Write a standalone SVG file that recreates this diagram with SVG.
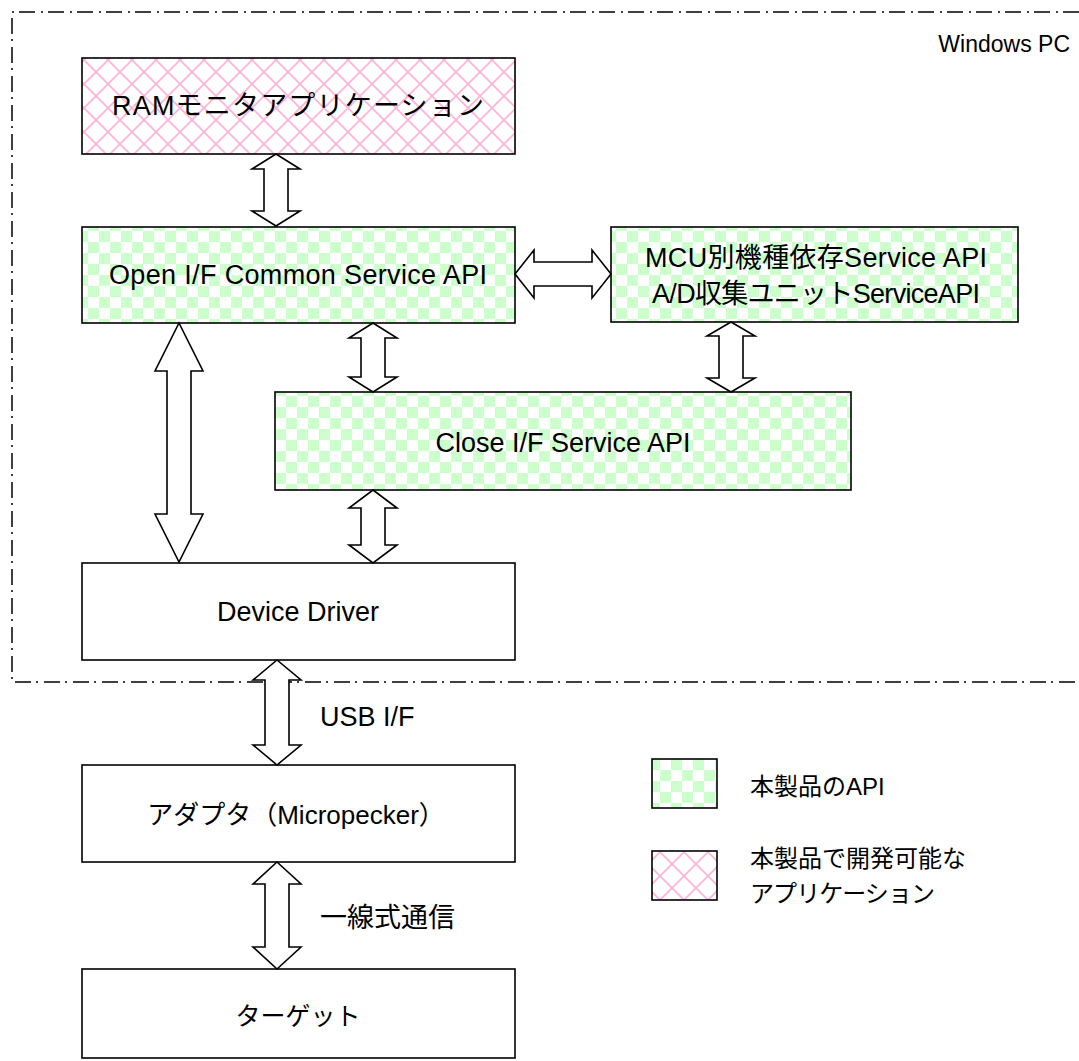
<svg xmlns="http://www.w3.org/2000/svg" width="1079" height="1061" viewBox="0 0 1079 1061">
<style>
.box{stroke:#000;stroke-width:1.6}
.t{font-family:"Liberation Sans","Noto Sans CJK JP",sans-serif;font-size:27px;fill:#000;dominant-baseline:central}
.c{text-anchor:middle}
.lg{font-size:24px}
.arr{fill:#fff;stroke:#000;stroke-width:1.6;stroke-linejoin:miter}
.border{fill:none;stroke:#000;stroke-width:1.5;stroke-dasharray:16 5 2 6}
</style>
<defs>
<pattern id="chk" width="22" height="22" patternUnits="userSpaceOnUse">
<rect width="22" height="22" fill="#fff"/>
<rect width="11" height="11" fill="#ccffcc"/>
<rect x="11" y="11" width="11" height="11" fill="#ccffcc"/>
</pattern>
<pattern id="hatch" width="24" height="24" patternUnits="userSpaceOnUse">
<rect width="24" height="24" fill="#fff"/>
<path d="M0 0 L24 24 M24 0 L0 24" stroke="#ffb3d9" stroke-width="1.7"/>
</pattern>
</defs>
<rect width="1079" height="1061" fill="#fff"/>
<path class="border" d="M1079 12 H12 V682 H1079"/>
<text class="t" x="1070" y="44" text-anchor="end" style="font-size:23px">Windows PC</text>

<g id="ram"><rect class="box" x="82" y="58" width="433" height="96" fill="url(#hatch)"/><text class="t c" x="298" y="106" textLength="372">RAMモニタアプリケーション</text></g>
<g id="openif"><rect class="box" x="82" y="227" width="433" height="96" fill="url(#chk)"/><text class="t c" x="298" y="275" textLength="378">Open I/F Common Service API</text></g>
<g id="mcu"><rect class="box" x="611" y="227" width="407" height="95" fill="url(#chk)"/><text class="t c" x="816" y="258" textLength="342">MCU別機種依存Service API</text><text class="t c" x="816" y="294" textLength="328">A/D収集ユニットServiceAPI</text></g>
<g id="close"><rect class="box" x="275" y="392" width="576" height="98" fill="url(#chk)"/><text class="t c" x="563" y="443">Close I/F Service API</text></g>
<g id="driver"><rect class="box" x="82" y="563" width="433" height="97" fill="#fff"/><text class="t c" x="298" y="612">Device Driver</text></g>
<g id="adapter"><rect class="box" x="82" y="765" width="433" height="97" fill="#fff"/><text class="t c" x="296" y="815" style="font-size:26px">アダプタ（Micropecker）</text></g>
<g id="target"><rect class="box" x="82" y="969" width="433" height="89" fill="#fff"/><text class="t c" x="298" y="1016" style="font-size:25px">ターゲット</text></g>

<g id="connectors">
<polygon class="arr" points="276,154 300,169 288,169 288,211 300,211 276,226 252,211 264,211 264,169 252,169"/>
<polygon class="arr" points="515,274 534,250 534,262 592,262 592,250 611,274 592,298 592,286 534,286 534,298"/>
<polygon class="arr" points="373,323 397,338 385,338 385,377 397,377 373,392 349,377 361,377 361,338 349,338"/>
<polygon class="arr" points="731,322 755,336 743,336 743,378 755,378 731,392 707,378 719,378 719,336 707,336"/>
<polygon class="arr" points="179,323 203,371 191,371 191,514 203,514 179,562 155,514 167,514 167,371 155,371"/>
<polygon class="arr" points="373,490 397,508 385,508 385,545 397,545 373,563 349,545 361,545 361,508 349,508"/>
<polygon class="arr" points="277,660 301,680 289,680 289,745 301,745 277,765 253,745 265,745 265,680 253,680"/>
<polygon class="arr" points="277,862 301,884 289,884 289,947 301,947 277,969 253,947 265,947 265,884 253,884"/>
</g>
<text class="t" x="320" y="717">USB I/F</text>
<text class="t" x="320" y="918">一線式通信</text>

<g id="legend">
<rect class="box" x="652" y="759" width="65" height="49" fill="url(#chk)"/>
<text class="t lg" x="750" y="786">本製品のAPI</text>
<rect class="box" x="652" y="851" width="65" height="49" fill="url(#hatch)"/>
<text class="t lg" x="750" y="858">本製品で開発可能な</text>
<text class="t lg" x="750" y="893" textLength="185">アプリケーション</text>
</g>
</svg>
